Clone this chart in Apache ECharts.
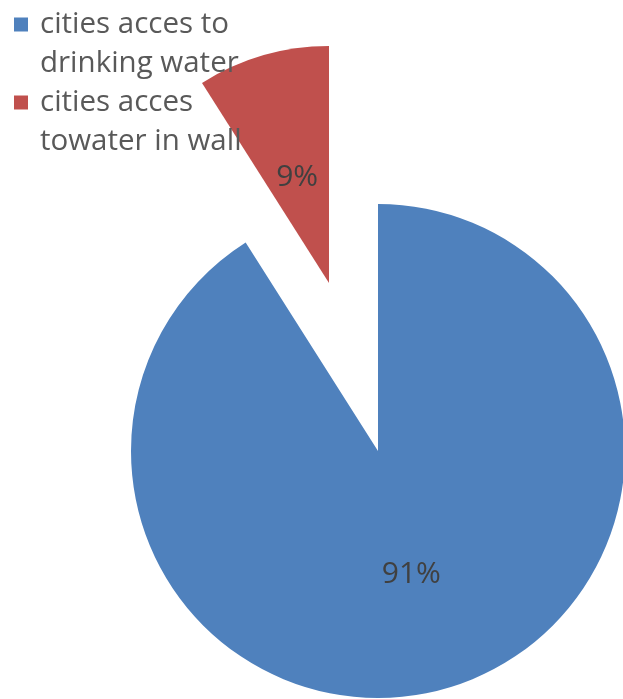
<!DOCTYPE html>
<html>
<head>
<meta charset="utf-8">
<script src="https://cdn.jsdelivr.net/npm/echarts@6/dist/echarts.min.js"></script>
<style>
html,body{margin:0;padding:0;background:#fff;}
#chart{width:623px;height:699px;}
</style>
</head>
<body>
<div id="chart"></div>
<script>
const categories = ['cities acces to\ndrinking water', 'cities acces\ntowater in wall'];
const values = [91, 9];
const colors = ['#4F81BD', '#C0504D'];

const FONT = 'Open Sans';
const chart = echarts.init(document.getElementById('chart'), null, {renderer: 'canvas'});

const labelCfg = {
  show: true,
  position: 'inside',
  fontFamily: FONT,
  fontSize: 30,
  color: '#404040',
  formatter: p => Math.round(p.percent) + '%'
};
const blank = {color: 'rgba(0,0,0,0)'};

const option = {
  animation: false,
  backgroundColor: '#ffffff',
  legend: {
    orient: 'vertical',
    left: 4,
    top: 0,
    itemWidth: 0,
    itemHeight: 0,
    itemGap: 0,
    icon: 'rect',
    selectedMode: false,
    data: categories,
    formatter: name => {
      const idx = categories.indexOf(name);
      const m = idx === 0 ? 'mb' : 'mr';
      const lines = name.split('\n');
      return '{' + m + '|}{g|}{t|' + lines[0] + '}\n{s|}{t|' + lines[1] + '}';
    },
    textStyle: {
      fontFamily: FONT,
      fontSize: 29.5,
      color: '#595959',
      lineHeight: 39,
      rich: {
        mb: {width: 14, height: 14, backgroundColor: colors[0]},
        mr: {width: 14, height: 14, backgroundColor: colors[1]},
        g: {width: 12},
        s: {width: 26},
        t: {fontFamily: FONT, fontSize: 29.5, color: '#595959', lineHeight: 39}
      }
    }
  },
  series: [
    {
      type: 'pie',
      center: [378, 451],
      radius: 247,
      startAngle: 90,
      clockwise: true,
      silent: true,
      label: labelCfg,
      labelLine: {show: false},
      data: [
        {name: categories[0], value: values[0], itemStyle: {color: colors[0]}, label: {offset: [-2, 2]}},
        {name: '_gap1', value: values[1], itemStyle: blank, label: {show: false}}
      ]
    },
    {
      type: 'pie',
      center: [329, 283],
      radius: 237,
      startAngle: 90,
      clockwise: true,
      silent: true,
      label: labelCfg,
      labelLine: {show: false},
      data: [
        {name: '_gap2', value: values[0], itemStyle: blank, label: {show: false}},
        {name: categories[1], value: values[1], itemStyle: {color: colors[1]}, label: {offset: [2, 11]}}
      ]
    }
  ]
};
chart.setOption(option);
</script>
</body>
</html>
